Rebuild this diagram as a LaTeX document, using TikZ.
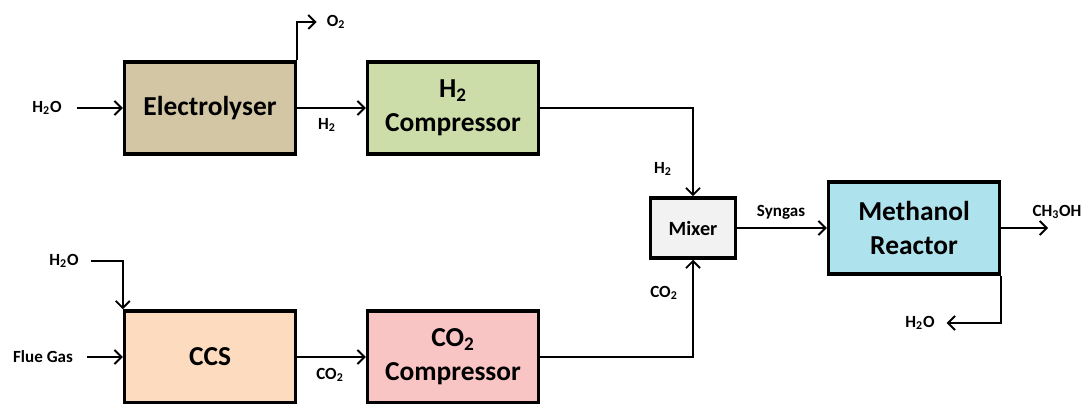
\documentclass[tikz,border=0pt]{standalone}
\usepackage{fontspec}
\setmainfont{Carlito}
\usetikzlibrary{arrows.meta}
\definecolor{elecfill}{RGB}{211,198,164}
\definecolor{hcompfill}{RGB}{204,221,170}
\definecolor{ccsfill}{RGB}{253,219,190}
\definecolor{ccompfill}{RGB}{249,196,196}
\definecolor{mixfill}{RGB}{242,242,242}
\definecolor{reacfill}{RGB}{174,226,236}
\newcommand{\sbs}[1]{\textsubscript{#1}}
\begin{document}
\begin{tikzpicture}[x=0.02cm, y=-0.02cm,
  box/.style={draw, line width=2pt, minimum width=3.42cm, minimum height=1.84cm, align=center, font=\fontsize{15.6}{19.5}\selectfont\bfseries},
  stream/.style={font=\fontsize{9.7}{11}\selectfont\bfseries, inner sep=1pt},
  flow/.style={line width=1.1pt, -{Straight Barb[length=4pt,width=8pt]}}]
\useasboundingbox (0,0) rectangle (1086,404);
\node[box, fill=elecfill] (elec) at (210,108) {Electrolyser};
\node[box, fill=hcompfill] (hcomp) at (453,108) {H\sbs{2}\\Compressor};
\node[box, fill=ccsfill] (ccs) at (210,357) {CCS};
\node[box, fill=ccompfill] (ccomp) at (453,357) {CO\sbs{2}\\Compressor};
\node[box, fill=mixfill, minimum width=1.7cm, minimum height=1.2cm, font=\fontsize{11.5}{14}\selectfont\bfseries] (mixer) at (693,228) {Mixer};
\node[box, fill=reacfill] (reac) at (914,228) {Methanol\\Reactor};
\node[stream] (h2oin) at (47,108) {H\sbs{2}O};
\node[stream] (oout) at (336,22) {O\sbs{2}};
\node[stream] (hlab) at (327,125) {H\sbs{2}};
\node[stream] (h2occs) at (64,261) {H\sbs{2}O};
\node[stream] (flue) at (43,357) {Flue Gas};
\node[stream] (clab) at (330,375) {CO\sbs{2}};
\node[stream] (hmix) at (663,169) {H\sbs{2}};
\node[stream] (cmix) at (664,293) {CO\sbs{2}};
\node[stream] (syn) at (781,212) {Syngas};
\node[stream] (meoh) at (1057,212) {CH\sbs{3}OH};
\node[stream] (wout) at (920,323) {H\sbs{2}O};
\coordinate (meohend) at (1048,228);
\draw[flow, shorten <=0.26cm] (h2oin) -- (elec);
\draw[flow, shorten >=0.16cm] (elec.north east) |- (oout);
\draw[flow] (elec) -- (hcomp);
\draw[flow] (hcomp.east) -| (mixer.north);
\draw[flow, shorten <=0.2cm] (h2occs) -| (ccs.north west);
\draw[flow, shorten <=0.24cm] (flue) -- (ccs);
\draw[flow] (ccs) -- (ccomp);
\draw[flow] (ccomp.east) -| (mixer.south);
\draw[flow] (mixer) -- (reac);
\draw[flow] (reac) -- (meohend);
\draw[flow, shorten >=0.2cm] (reac.south east) |- (wout);
\end{tikzpicture}
\end{document}
